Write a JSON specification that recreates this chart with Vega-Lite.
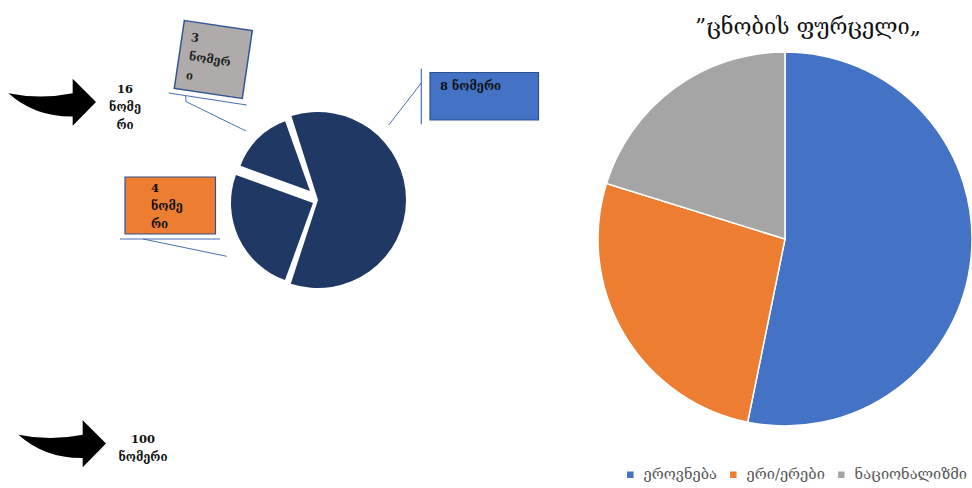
{"$schema":"https://vega.github.io/schema/vega-lite/v6.json","width":972,"height":488,"padding":0,"autosize":{"type":"none"},"background":"white","config":{"view":{"stroke":null}},"data":{"values":[{}]},"datasets":{"survey":[{"category":"ეროვნება","share":53.2,"rank":1},{"category":"ერი/ერები","share":26.6,"rank":2},{"category":"ნაციონალიზმი","share":20.2,"rank":3}],"numbers":[{"slice":"4 ნომერი","share":25,"rank":1},{"slice":"3 ნომერი","share":14,"rank":2},{"slice":"8 ნომერი","share":61,"rank":3}]},"resolve":{"scale":{"theta":"independent"}},"layer":[
{"data":{"name":"survey"},"transform":[{"stack":"share","groupby":[],"sort":[{"field":"rank"}],"as":["a0","a1"]}],"mark":{"type":"arc","outerRadius":187,"stroke":"white","strokeWidth":1.5},"encoding":{"x":{"datum":785,"type":"quantitative","scale":{"domain":[0,972]},"axis":null},"y":{"datum":239,"type":"quantitative","scale":{"domain":[488,0]},"axis":null},"theta":{"field":"a0","type":"quantitative","scale":{"domain":[0,100],"range":[0,6.2832]}},"theta2":{"field":"a1"},"color":{"field":"category","type":"nominal","sort":null,"scale":{"domain":["ეროვნება","ერი/ერები","ნაციონალიზმი"],"range":["#4472C4","#ED7D31","#A5A5A5"]},"legend":{"orient":"none","legendX":623,"legendY":467,"direction":"horizontal","columns":3,"title":null,"symbolType":"square","symbolSize":64,"labelFontSize":14.6,"labelOffset":6,"labelColor":"#595959","labelFont":"DejaVu Serif","columnPadding":9}}}},
{"data":{"name":"numbers"},"transform":[{"stack":"share","groupby":[],"sort":[{"field":"rank"}],"as":["a0","a1"]},{"filter":"datum.rank==3"}],"mark":{"type":"arc","outerRadius":88,"fill":"#1F3864"},"encoding":{"x":{"datum":318,"type":"quantitative","scale":{"domain":[0,972]},"axis":null},"y":{"datum":200,"type":"quantitative","scale":{"domain":[488,0]},"axis":null},"theta":{"field":"a0","type":"quantitative","scale":{"domain":[0,100],"range":[3.571,9.739]}},"theta2":{"field":"a1"}}},
{"data":{"name":"numbers"},"transform":[{"stack":"share","groupby":[],"sort":[{"field":"rank"}],"as":["a0","a1"]},{"filter":"datum.rank==1"}],"mark":{"type":"arc","outerRadius":82,"fill":"#1F3864"},"encoding":{"x":{"datum":313,"type":"quantitative","scale":{"domain":[0,972]},"axis":null},"y":{"datum":203,"type":"quantitative","scale":{"domain":[488,0]},"axis":null},"theta":{"field":"a0","type":"quantitative","scale":{"domain":[0,100],"range":[3.49,9.773]}},"theta2":{"field":"a1"}}},
{"data":{"name":"numbers"},"transform":[{"stack":"share","groupby":[],"sort":[{"field":"rank"}],"as":["a0","a1"]},{"filter":"datum.rank==2"}],"mark":{"type":"arc","outerRadius":74,"fill":"#1F3864"},"encoding":{"x":{"datum":310,"type":"quantitative","scale":{"domain":[0,972]},"axis":null},"y":{"datum":191,"type":"quantitative","scale":{"domain":[488,0]},"axis":null},"theta":{"field":"a0","type":"quantitative","scale":{"domain":[0,100],"range":[3.49,9.773]}},"theta2":{"field":"a1"}}},
{"mark":{"type":"rect","fill":"#ED7D31","stroke":"#2F528F","strokeWidth":1.2},"encoding":{"x":{"datum":125,"type":"quantitative","scale":{"domain":[0,972]},"axis":null},"x2":{"datum":215.5},"y":{"datum":177,"type":"quantitative","scale":{"domain":[488,0]},"axis":null},"y2":{"datum":234}}},
{"mark":{"type":"rect","fill":"#4472C4","stroke":"#2F528F","strokeWidth":1.2},"encoding":{"x":{"datum":430,"type":"quantitative","scale":{"domain":[0,972]},"axis":null},"x2":{"datum":538.5},"y":{"datum":72.5,"type":"quantitative","scale":{"domain":[488,0]},"axis":null},"y2":{"datum":120}}},
{"mark":{"type":"point","shape":"square","filled":true,"fill":"#AFABAB","stroke":"#2F5597","strokeWidth":1.5,"opacity":1,"angle":8.4,"size":4720},"encoding":{"x":{"datum":213.3,"type":"quantitative","scale":{"domain":[0,972]},"axis":null},"y":{"datum":59.5,"type":"quantitative","scale":{"domain":[488,0]},"axis":null}}},
{"mark":{"type":"rule","stroke":"#4A6FB5","strokeWidth":1.2},"encoding":{"x":{"datum":168.7,"type":"quantitative","scale":{"domain":[0,972]},"axis":null},"x2":{"datum":246.7},"y":{"datum":93,"type":"quantitative","scale":{"domain":[488,0]},"axis":null},"y2":{"datum":105}}},
{"mark":{"type":"rule","stroke":"#4A6FB5","strokeWidth":1},"encoding":{"x":{"datum":185.7,"type":"quantitative","scale":{"domain":[0,972]},"axis":null},"x2":{"datum":186},"y":{"datum":96,"type":"quantitative","scale":{"domain":[488,0]},"axis":null},"y2":{"datum":101.6}}},
{"mark":{"type":"rule","stroke":"#4A6FB5","strokeWidth":1},"encoding":{"x":{"datum":186,"type":"quantitative","scale":{"domain":[0,972]},"axis":null},"x2":{"datum":246},"y":{"datum":101.6,"type":"quantitative","scale":{"domain":[488,0]},"axis":null},"y2":{"datum":131}}},
{"mark":{"type":"rule","stroke":"#4A6FB5","strokeWidth":1.2},"encoding":{"x":{"datum":120,"type":"quantitative","scale":{"domain":[0,972]},"axis":null},"x2":{"datum":220},"y":{"datum":239,"type":"quantitative","scale":{"domain":[488,0]},"axis":null},"y2":{"datum":239}}},
{"mark":{"type":"rule","stroke":"#4A6FB5","strokeWidth":1},"encoding":{"x":{"datum":143,"type":"quantitative","scale":{"domain":[0,972]},"axis":null},"x2":{"datum":226.7},"y":{"datum":239,"type":"quantitative","scale":{"domain":[488,0]},"axis":null},"y2":{"datum":256.3}}},
{"mark":{"type":"rule","stroke":"#4A6FB5","strokeWidth":1.2},"encoding":{"x":{"datum":421.3,"type":"quantitative","scale":{"domain":[0,972]},"axis":null},"x2":{"datum":421.3},"y":{"datum":68.7,"type":"quantitative","scale":{"domain":[488,0]},"axis":null},"y2":{"datum":124.3}}},
{"mark":{"type":"rule","stroke":"#4A6FB5","strokeWidth":1},"encoding":{"x":{"datum":421.3,"type":"quantitative","scale":{"domain":[0,972]},"axis":null},"x2":{"datum":388.7},"y":{"datum":83,"type":"quantitative","scale":{"domain":[488,0]},"axis":null},"y2":{"datum":125}}},
{"mark":{"type":"point","shape":"M-0.99 -0.2Q-0.27 -0.05 0.47 -0.2L0.47 -0.53L1 0L0.47 0.54L0.47 0.33Q-0.39 0.34 -0.99 -0.2Z","filled":true,"fill":"black","opacity":1,"size":7744},"encoding":{"x":{"datum":52,"type":"quantitative","scale":{"domain":[0,972]},"axis":null},"y":{"datum":102,"type":"quantitative","scale":{"domain":[488,0]},"axis":null}}},
{"mark":{"type":"point","shape":"M-0.99 -0.2Q-0.27 -0.05 0.47 -0.2L0.47 -0.53L1 0L0.47 0.54L0.47 0.33Q-0.39 0.34 -0.99 -0.2Z","filled":true,"fill":"black","opacity":1,"size":7744},"encoding":{"x":{"datum":62,"type":"quantitative","scale":{"domain":[0,972]},"axis":null},"y":{"datum":443.5,"type":"quantitative","scale":{"domain":[488,0]},"axis":null}}},
{"data":{"values":[{"label":"”ცნობის ფურცელი„"}]},"mark":{"type":"text","font":"DejaVu Serif","fontSize":21.8,"fill":"#111111","align":"center","baseline":"middle"},"encoding":{"text":{"field":"label"},"x":{"datum":808,"type":"quantitative","scale":{"domain":[0,972]},"axis":null},"y":{"datum":27,"type":"quantitative","scale":{"domain":[488,0]},"axis":null}}},
{"data":{"values":[{"label":"16|ნომე|რი"}]},"mark":{"type":"text","font":"DejaVu Serif","fontSize":11.5,"fontWeight":"bold","fill":"#111111","align":"center","baseline":"middle","lineBreak":"|","lineHeight":18},"encoding":{"text":{"field":"label"},"x":{"datum":125,"type":"quantitative","scale":{"domain":[0,972]},"axis":null},"y":{"datum":90,"type":"quantitative","scale":{"domain":[488,0]},"axis":null}}},
{"data":{"values":[{"label":"100|ნომერი"}]},"mark":{"type":"text","font":"DejaVu Serif","fontSize":11.5,"fontWeight":"bold","fill":"#111111","align":"center","baseline":"middle","lineBreak":"|","lineHeight":18},"encoding":{"text":{"field":"label"},"x":{"datum":143,"type":"quantitative","scale":{"domain":[0,972]},"axis":null},"y":{"datum":440,"type":"quantitative","scale":{"domain":[488,0]},"axis":null}}},
{"data":{"values":[{"label":"4|ნომე|რი"}]},"mark":{"type":"text","font":"DejaVu Serif","fontSize":11.5,"fontWeight":"bold","fill":"#111111","align":"left","baseline":"middle","lineBreak":"|","lineHeight":18},"encoding":{"text":{"field":"label"},"x":{"datum":151,"type":"quantitative","scale":{"domain":[0,972]},"axis":null},"y":{"datum":189,"type":"quantitative","scale":{"domain":[488,0]},"axis":null}}},
{"data":{"values":[{"label":"8 ნომერი"}]},"mark":{"type":"text","font":"DejaVu Serif","fontSize":11.5,"fontWeight":"bold","fill":"#111111","align":"left","baseline":"middle"},"encoding":{"text":{"field":"label"},"x":{"datum":440,"type":"quantitative","scale":{"domain":[0,972]},"axis":null},"y":{"datum":87,"type":"quantitative","scale":{"domain":[488,0]},"axis":null}}},
{"data":{"values":[{"label":"3"}]},"mark":{"type":"text","font":"DejaVu Serif","fontSize":11.5,"fontWeight":"bold","fill":"#222222","align":"left","baseline":"middle","angle":8.4},"encoding":{"text":{"field":"label"},"x":{"datum":191,"type":"quantitative","scale":{"domain":[0,972]},"axis":null},"y":{"datum":38,"type":"quantitative","scale":{"domain":[488,0]},"axis":null}}},
{"data":{"values":[{"label":"ნომერ"}]},"mark":{"type":"text","font":"DejaVu Serif","fontSize":11.5,"fontWeight":"bold","fill":"#222222","align":"left","baseline":"middle","angle":8.4},"encoding":{"text":{"field":"label"},"x":{"datum":189,"type":"quantitative","scale":{"domain":[0,972]},"axis":null},"y":{"datum":57,"type":"quantitative","scale":{"domain":[488,0]},"axis":null}}},
{"data":{"values":[{"label":"ი"}]},"mark":{"type":"text","font":"DejaVu Serif","fontSize":11.5,"fontWeight":"bold","fill":"#222222","align":"left","baseline":"middle","angle":8.4},"encoding":{"text":{"field":"label"},"x":{"datum":186,"type":"quantitative","scale":{"domain":[0,972]},"axis":null},"y":{"datum":76,"type":"quantitative","scale":{"domain":[488,0]},"axis":null}}}
]}
